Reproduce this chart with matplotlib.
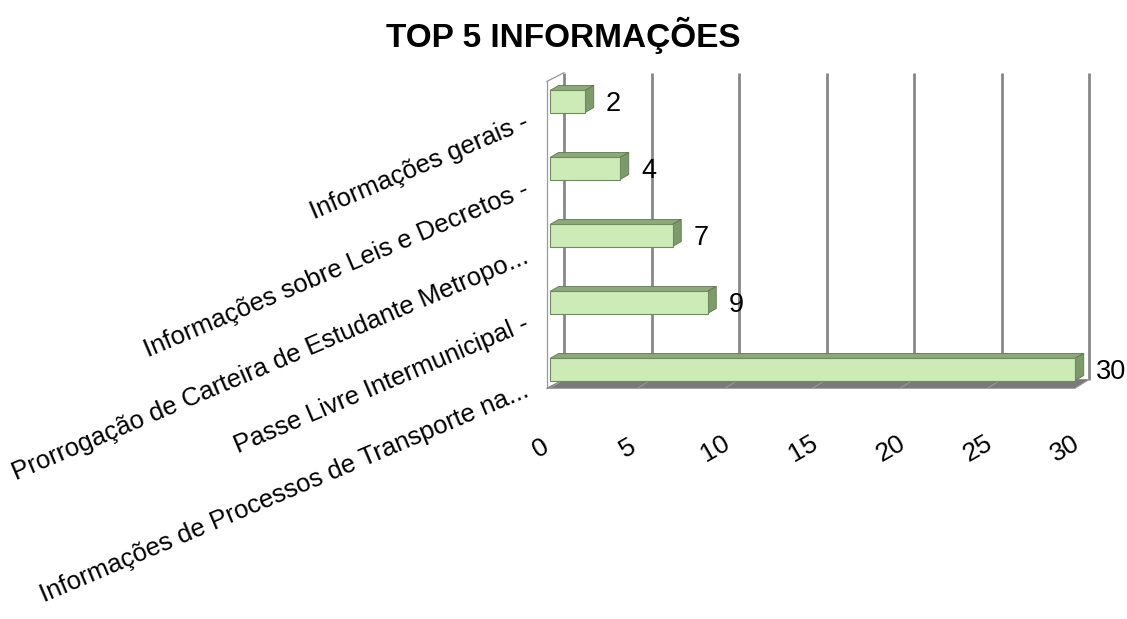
import matplotlib
matplotlib.use("Agg")
import matplotlib.pyplot as plt
from matplotlib.patches import Polygon, Rectangle

plt.rcParams['font.family'] = ['Liberation Sans', 'DejaVu Sans']

# data (bottom to top)
categorias = ['Informações de Processos de Transporte na...',
              'Passe Livre Intermunicipal -',
              'Prorrogação de Carteira de Estudante Metropo...',
              'Informações sobre Leis e Decretos -',
              'Informações gerais -']
valores = [30, 9, 7, 4, 2]
ticks_x = [0, 5, 10, 15, 20, 25, 30]

# pseudo 3d geometry (data units)
dx, dy = 0.8, 0.13           # wall depth
bdx, bdy = 0.5, 0.075        # bar depth
h = 0.33                     # bar height
piso = -0.28                 # front edge of floor
topo = 4.43                  # top of back wall

fig = plt.figure(figsize=(11.27, 6.19), dpi=100)
ax = fig.add_axes([0, 0, 1, 1])
ax.set_xlim(-550 / 17.5, (1127 - 550) / 17.5)
ax.set_ylim(-249.5 / 67, (619 - 249.5) / 67)
ax.axis('off')

grid_c = '#878787'
# back wall gridlines
for t in ticks_x:
    ax.plot([t + dx, t + dx], [piso + dy, topo], color=grid_c, lw=2.0, zorder=1,
            solid_capstyle='butt')
# left wall
ax.plot([-0.17, -0.17], [piso, topo - dy], color='#9a9a9a', lw=0.9, zorder=1)
ax.plot([-0.17, dx], [topo - dy, topo], color='#9a9a9a', lw=0.9, zorder=1)
ax.plot([-0.17, dx], [piso, piso + dy], color='#9a9a9a', lw=0.9, zorder=1)

# floor
ax.add_patch(Polygon([(-0.17, piso), (30, piso), (30 + dx, piso + dy), (dx, piso + dy)],
                     closed=True, facecolor='#7a7a7a', edgecolor='#8a8a8a', lw=0.6, zorder=2))
for t in ticks_x:
    ax.plot([t, t + dx], [piso, piso + dy], color='#a0a0a0', lw=0.6, zorder=2)

# bars
for i, v in enumerate(valores):
    y0, y1 = i - h / 2, i + h / 2
    # top face
    ax.add_patch(Polygon([(0, y1), (v, y1), (v + bdx, y1 + bdy), (bdx, y1 + bdy)],
                         closed=True, facecolor='#8ea77c', edgecolor='#5f7a4f', lw=0.6, zorder=4))
    # side face
    ax.add_patch(Polygon([(v, y0), (v + bdx, y0 + bdy), (v + bdx, y1 + bdy), (v, y1)],
                         closed=True, facecolor='#7d9a6a', edgecolor='#5f7a4f', lw=0.6, zorder=4))
    # front face
    ax.add_patch(Rectangle((0, y0), v, h, facecolor='#cdebb6', edgecolor='#6f8a5e',
                           lw=0.8, zorder=5))
    ax.text(v + 1.2, i - 0.03, str(v), ha='left', va='center', fontsize=19.5, zorder=6)

# x tick labels
for t in ticks_x:
    ax.text(t - 0.55, -1.18, str(t), ha='center', va='center', rotation=30, fontsize=19)

# category labels
for i, c in enumerate(categorias):
    ax.text(-1.3, i - 0.3, c, ha='right', va='center', rotation=23,
            rotation_mode='anchor', fontsize=18.5)

fig.text(0.5, 1 - 35 / 619, 'TOP 5 INFORMAÇÕES', ha='center', va='center',
         fontsize=24, fontweight='bold')

fig.savefig('out.png', dpi=100)
